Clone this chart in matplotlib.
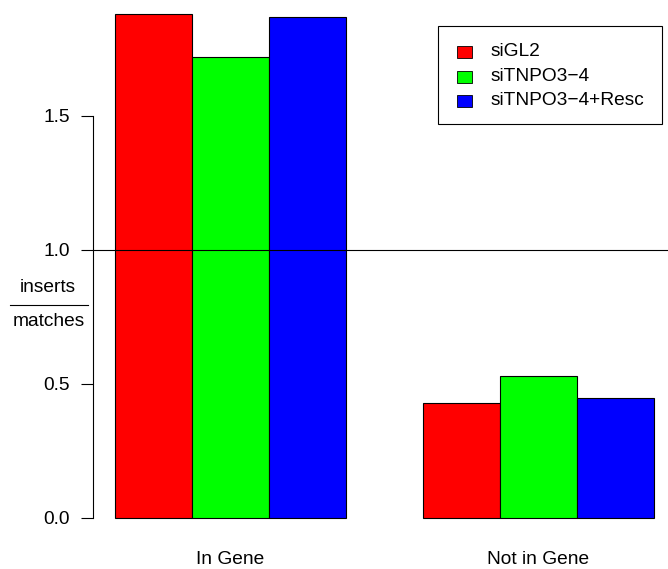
import matplotlib
matplotlib.use("Agg")
import matplotlib.pyplot as plt
from matplotlib.patches import Rectangle
from matplotlib.lines import Line2D

plt.rcParams['font.family'] = ['Liberation Sans', 'DejaVu Sans']

# ratio of inserts to matches per group and condition
groups = ["In Gene", "Not in Gene"]
conditions = ["siGL2", "siTNPO3\u22124", "siTNPO3\u22124+Resc"]
siGL2 = [1.878, 0.426]
siTNPO3_4 = [1.719, 0.529]
siTNPO3_4_resc = [1.869, 0.445]
colors = ["#FF0000", "#00FF00", "#0000FF"]
yticks = [0.0, 0.5, 1.0, 1.5]

W, H = 668, 569
FS = 13.8


def fx(px):
    return px / W


def fy(py):
    return 1 - py / H


fig = plt.figure(figsize=(W / 100, H / 100), dpi=100)
ax = fig.add_axes([fx(93), fy(537.6), 1 - fx(93), fy(0) - fy(537.6)])

series = [siGL2, siTNPO3_4, siTNPO3_4_resc]
group_start = [1, 5]
for i, vals in enumerate(series):
    xs = [g + i for g in group_start]
    ax.bar(xs, vals, width=1, align='edge', color=colors[i],
           edgecolor='black', linewidth=0.8)

ax.axhline(1.0, color='black', linewidth=0.8)

ax.set_xlim(0.72, 8.18)
ax.set_ylim(-0.075, 1.931)

for s in ['top', 'right', 'bottom']:
    ax.spines[s].set_visible(False)
ax.spines['left'].set_bounds(0, 1.5)
ax.spines['left'].set_linewidth(0.8)
ax.set_xticks([])
ax.set_yticks(yticks)
ax.set_yticklabels(["%.1f" % v for v in yticks], fontsize=FS)
ax.tick_params(axis='y', length=8.6, width=0.8, pad=8.0)

# group labels under the bars
for g, name in zip(group_start, groups):
    ax.text(g + 1.5, -0.075, name, fontsize=FS, ha='center', va='top',
            transform=ax.transData + matplotlib.transforms.ScaledTranslation(0, -13 / 100, fig.dpi_scale_trans))

# y label drawn as a fraction
fig.text(fx(48), fy(288), "inserts", fontsize=FS, ha='center', va='center')
fig.add_artist(Line2D([fx(10), fx(88)], [fy(305), fy(305)], color='black', linewidth=0.8))
fig.text(fx(49), fy(321), "matches", fontsize=FS, ha='center', va='center')

# legend box
fig.add_artist(Rectangle((fx(438.3), fy(124)), fx(661.7) - fx(438.3), fy(26) - fy(124),
                         transform=fig.transFigure, fill=False, edgecolor='black', linewidth=0.8))
row_y = [51.7, 76.7, 100.5]
for c, lab, ry in zip(colors, conditions, row_y):
    fig.add_artist(Rectangle((fx(456.7), fy(ry + 6)), fx(15), fy(0) - fy(12),
                             transform=fig.transFigure, facecolor=c,
                             edgecolor='black', linewidth=0.6))
    fig.text(fx(491), fy(ry), lab, fontsize=FS, ha='left', va='center')

fig.savefig("out.png", dpi=100)
